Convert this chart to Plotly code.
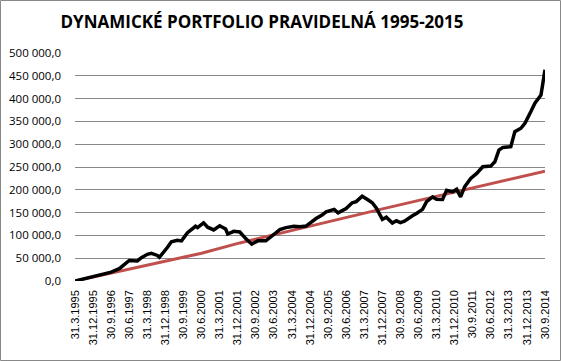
import pandas as pd
import plotly.graph_objects as go

# ---- data ----
start_month = "1995-03-31"
n_months = 235

# portfolio value: month index since 31.3.1995 -> value (CZK)
portfolio_month = [0, 6, 12, 18, 22, 25, 27, 31, 33, 36, 38, 41, 42, 46, 48, 51, 53, 56, 58, 60,
                   61, 64, 66, 69, 72, 75, 76, 79, 82, 85, 88, 91, 95, 98, 100, 102, 105, 109, 112, 115,
                   120, 123, 125, 129, 131, 135, 138, 140, 143, 146, 148, 150, 152, 153, 155, 157, 158, 160, 162, 164,
                   166, 168, 170, 173, 175, 178, 180, 183, 185, 188, 190, 192, 194, 197, 200, 203, 207, 209, 211, 213,
                   217, 219, 222, 224, 227, 229, 232, 233, 234]
portfolio_value = [0, 6000, 12500, 19500, 27000, 37000, 45000, 44000, 51000, 58500, 60500, 56000, 52000, 74000, 86000, 89500, 88000, 106000, 112000, 120000,
                   117000, 127500, 118000, 112000, 121000, 114000, 103000, 109000, 107500, 93000, 81000, 88000, 88000, 100000, 105500, 113000, 117000, 120000, 119000, 120500,
                   137000, 144500, 151500, 157000, 149500, 159000, 171500, 174000, 186000, 177500, 171500, 160000, 145000, 135000, 140000, 130000, 127000, 132000, 128000, 131000,
                   138000, 143000, 148000, 157000, 174000, 184500, 179500, 179000, 199000, 195500, 201000, 184500, 206500, 225000, 236000, 250500, 252000, 261500, 287000, 293000,
                   294500, 327500, 335000, 346000, 371500, 390000, 408000, 441000, 463000]

# invested amount (regular deposits)
invested_month = [0, 63, 82, 152, 234]
invested_value = [0, 61000, 83500, 157000, 241000]

tick_labels = ["31.3.1995", "31.12.1995", "30.9.1996", "30.6.1997", "31.3.1998", "31.12.1998",
               "30.9.1999", "30.6.2000", "31.3.2001", "31.12.2001", "30.9.2002", "30.6.2003",
               "31.3.2004", "31.12.2004", "30.9.2005", "30.6.2006", "31.3.2007", "31.12.2007",
               "30.9.2008", "30.6.2009", "31.3.2010", "31.12.2010", "30.9.2011", "30.6.2012",
               "31.3.2013", "31.12.2013", "30.9.2014"]

# ---- build ----
all_dates = pd.date_range(start_month, periods=n_months, freq="ME")
p_dates = [all_dates[m] for m in portfolio_month]
i_dates = [all_dates[m] for m in invested_month]
tick_vals = [pd.to_datetime(t, format="%d.%m.%Y") for t in tick_labels]

fig = go.Figure()
fig.add_trace(go.Scatter(x=i_dates, y=invested_value, mode="lines",
                         line=dict(color="#C0504D", width=3), hoverinfo="skip"))
fig.add_trace(go.Scatter(x=p_dates, y=portfolio_value, mode="lines",
                         line=dict(color="#000000", width=3.5, shape="linear"), hoverinfo="skip"))

L, R, T, B = 75, 16, 53, 80
W, H = 561, 361
pw, ph = W - L - R, H - T - B

fig.update_layout(
    width=W, height=H,
    margin=dict(l=L, r=R, t=T, b=B, autoexpand=False),
    paper_bgcolor="white", plot_bgcolor="white",
    showlegend=False,
    separators=", ",
    title=dict(text="<b>DYNAMICKÉ PORTFOLIO PRAVIDELNÁ 1995-2015</b>",
               x=262 / W, xref="container", xanchor="center",
               y=1 - 22 / H, yref="container", yanchor="middle",
               font=dict(family="Open Sans", size=17, color="#000000")),
    xaxis=dict(range=[all_dates[0], all_dates[-1]], tickmode="array",
               tickvals=tick_vals, ticktext=tick_labels, tickangle=-90,
               showgrid=False, zeroline=False, showline=False, automargin=False,
               ticks="", ticklabelstandoff=6,
               tickfont=dict(family="Liberation Sans", size=11, color="#000000")),
    yaxis=dict(range=[0, 500000], tickmode="linear", tick0=0, dtick=50000,
               tickformat=",.1f", showgrid=True, gridcolor="#878787", gridwidth=1,
               zeroline=False, showline=False, ticks="", ticklabelstandoff=13,
               automargin=False,
               tickfont=dict(family="Open Sans", size=11.5, color="#000000")),
    shapes=[dict(type="rect", xref="paper", yref="paper",
                 x0=(0.5 - L) / pw, x1=(W - 0.5 - L) / pw,
                 y0=-(H - 0.5 - T - ph) / ph, y1=1 + (T - 0.5) / ph,
                 line=dict(color="#888888", width=1), fillcolor="rgba(0,0,0,0)", layer="above")],
)

fig.write_html("out.html", config={"displayModeBar": False},
               post_script="document.body.style.margin='0';document.body.style.padding='0';")
